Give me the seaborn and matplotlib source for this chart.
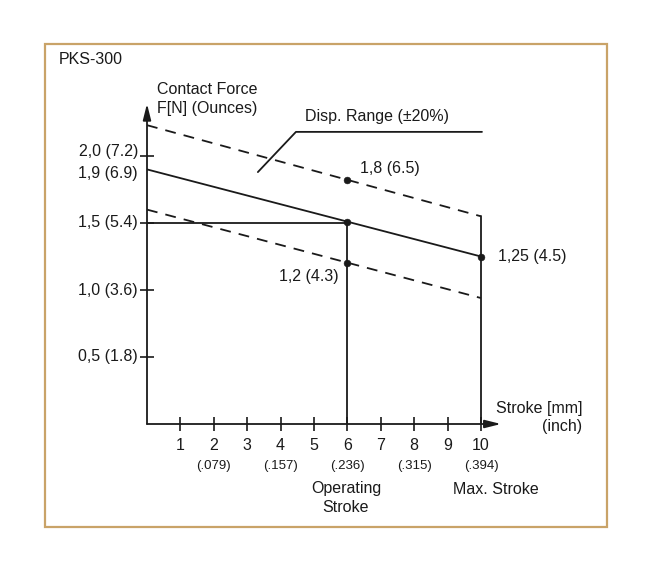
import numpy as np
import matplotlib
matplotlib.use("Agg")
import matplotlib.pyplot as plt
import seaborn as sns
from matplotlib.patches import Rectangle

sns.set_theme(style="white")
plt.rcParams['font.family'] = ['Liberation Sans', 'DejaVu Sans']

# data
stroke = [0, 10]
force_nominal = [1.9, 1.25]
force_upper = [2.23, 1.55]
force_lower = [1.6, 0.94]

pt_x = [6, 6, 6, 10]
pt_y = [1.82, 1.51, 1.2, 1.25]
pt_labels = ['1,8 (6.5)', '', '1,2 (4.3)', '1,25 (4.5)']

xtick_vals = [1, 2, 3, 4, 5, 6, 7, 8, 9, 10]
inch_vals = [2, 4, 6, 8, 10]
inch_labels = ['(.079)', '(.157)', '(.236)', '(.315)', '(.394)']

ytick_vals = [0.5, 1.0, 1.5, 2.0]
ylabel_vals = [0.5, 1.0, 1.5, 1.9, 2.0]
ylabel_text = ['0,5 (1.8)', '1,0 (3.6)', '1,5 (5.4)', '1,9 (6.9)', '2,0 (7.2)']
# labels at 1.9 / 2.0 are pushed apart a little, as in the drawing
ylabel_nudge = [0, 0, 0, -0.03, 0.03]

leader_x = [3.32, 4.46, 10.03]
leader_y = [1.88, 2.18, 2.18]

W, H = 653, 575
fig = plt.figure(figsize=(W / 100, H / 100), dpi=100)
fig.patch.set_facecolor('white')
ax = fig.add_axes([147 / W, 151 / H, 354 / W, 321.6 / H])
ax.set_xlim(0, 10.6)
ax.set_ylim(0, 2.4)
for s in ax.spines.values():
    s.set_visible(False)
ax.set_facecolor('none')

ink = '#1a1a1a'
lw = 1.3

# axes with arrows
arrow = dict(arrowstyle='-|>,head_length=0.8,head_width=0.2',
             color=ink, lw=lw, shrinkA=0, shrinkB=0)
ax.annotate('', xy=(10.6, 0), xytext=(0, 0), annotation_clip=False, arrowprops=arrow)
ax.annotate('', xy=(0, 2.39), xytext=(0, 0), annotation_clip=False, arrowprops=arrow)

# tick marks
ax.set_xticks(xtick_vals)
ax.set_yticks(ytick_vals)
ax.set_xticklabels([])
ax.set_yticklabels([])
ax.tick_params(axis='both', direction='inout', length=10, width=1.2, color=ink,
               bottom=True, left=True)

# lines
sns.lineplot(x=stroke, y=force_nominal, ax=ax, color=ink, lw=lw)
sns.lineplot(x=stroke, y=force_upper, ax=ax, color=ink, lw=lw, dashes=False)
sns.lineplot(x=stroke, y=force_lower, ax=ax, color=ink, lw=lw, dashes=False)
for ln in ax.lines[-2:]:
    ln.set_dashes([6, 4.5])

# reference lines
ax.plot([0, 6], [1.5, 1.5], color=ink, lw=lw)
ax.plot([6, 6], [0, pt_y[1]], color=ink, lw=lw)
ax.plot([10, 10], [0, force_upper[1]], color=ink, lw=lw)
ax.plot(leader_x, leader_y, color=ink, lw=lw)

sns.scatterplot(x=pt_x, y=pt_y, ax=ax, color=ink, s=24, edgecolor=ink, zorder=5)

fs = 11.5
ax.text(6.37, 1.91, pt_labels[0], fontsize=fs, color=ink, va='center', ha='left')
ax.text(5.73, 1.10, pt_labels[2], fontsize=fs, color=ink, va='center', ha='right')
ax.text(10.5, 1.25, pt_labels[3], fontsize=fs, color=ink, va='center', ha='left')

# tick labels
for v in xtick_vals:
    ax.text(v, -0.16, str(v), fontsize=fs, color=ink, ha='center', va='center')
for v, t in zip(inch_vals, inch_labels):
    ax.text(v, -0.315, t, fontsize=9.5, color=ink, ha='center', va='center')
for v, t, d in zip(ylabel_vals, ylabel_text, ylabel_nudge):
    ax.text(-0.27, v + d, t, fontsize=fs, color=ink, ha='right', va='center')


def ftext(x, y, s, **kw):
    fig.text(x / W, 1 - y / H, s, color=ink, va='center', **kw)


ftext(59, 59, 'PKS-300', fontsize=fs, ha='left')
ftext(157, 89, 'Contact Force', fontsize=fs, ha='left')
ftext(157, 108, 'F[N] (Ounces)', fontsize=fs, ha='left')
ftext(305, 116, 'Disp. Range (\u00b120%)', fontsize=fs, ha='left')
ftext(582, 408, 'Stroke [mm]', fontsize=fs, ha='right')
ftext(582, 426, '(inch)', fontsize=fs, ha='right')
ftext(346, 488, 'Operating', fontsize=fs, ha='center')
ftext(346, 507, 'Stroke', fontsize=fs, ha='center')
ftext(496, 490, 'Max. Stroke', fontsize=fs, ha='center')

# frame
fig.patches.append(Rectangle((45 / W, 48 / H), 562 / W, 483 / H,
                             transform=fig.transFigure, fill=False,
                             edgecolor='#c9a368', lw=1.6))

fig.savefig('out.png', dpi=100)
